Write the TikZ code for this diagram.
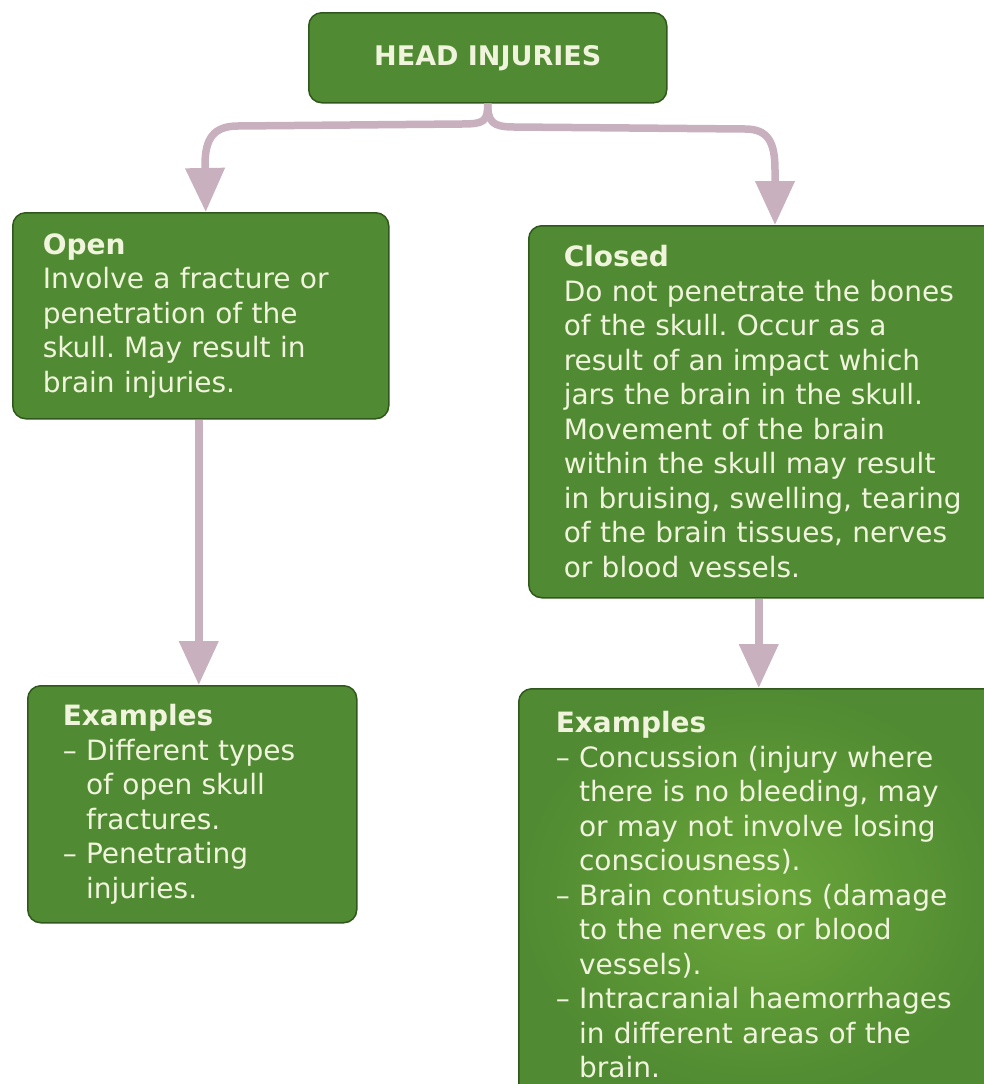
\documentclass[tikz,border=0pt]{standalone}
\usepackage{fontspec}
\setmainfont{DejaVu Sans}
\usetikzlibrary{arrows.meta,calc}
\definecolor{boxgreen}{RGB}{80,138,50}
\definecolor{boxedge}{RGB}{48,88,28}
\definecolor{boxtext}{RGB}{240,244,220}
\definecolor{arrowcol}{RGB}{200,176,190}
\frenchspacing
\begin{document}
\begin{tikzpicture}[x=1pt,y=-1pt,
  gbox/.style={draw=boxedge, line width=1.5pt, fill=boxgreen, rounded corners=13pt,
    text=boxtext, align=left, anchor=north west, font=\fontsize{28}{34.5}\selectfont\frenchspacing},
  arr/.style={draw=arrowcol, line width=7.5pt, -{Triangle[width=38pt,length=44pt]}}]
\useasboundingbox (0,0) rectangle (984,1084);
\clip (0,0) rectangle (984,1084);
\fill[white] (0,0) rectangle (984,1084);
% boxes
\node[gbox, anchor=north west, minimum width=358pt, minimum height=90pt, align=center,
      font=\fontsize{27}{32}\selectfont\bfseries] (head) at (308,12) {HEAD INJURIES};
\node[gbox, text width=316pt, inner xsep=30pt, minimum height=206pt] (open) at (12,212)
  {\textbf{Open}\\Involve a fracture or\\penetration of the\\skull. May result in\\brain injuries.};
\node[gbox, text width=402pt, inner xsep=35pt, minimum height=372pt] (closed) at (528,225)
  {\textbf{Closed}\\Do not penetrate the bones\\of the skull. Occur as a\\result of an impact which\\jars the brain in the skull.\\Movement of the brain\\within the skull may result\\in bruising, swelling, tearing\\of the brain tissues, nerves\\or blood vessels.};
\node[gbox, text width=259pt, inner xsep=35pt, minimum height=237pt] (exopen) at (27,685)
  {\textbf{Examples}\\– Different types\\\phantom{– }of open skull\\\phantom{– }fractures.\\– Penetrating\\\phantom{– }injuries.};
\node[gbox, text width=408pt, inner xsep=37pt, minimum height=412pt,
      inner color={rgb,255:red,106;green,166;blue,58}, outer color=boxgreen] (exclosed) at (518,688)
  {\textbf{Examples}\\– Concussion (injury where\\\phantom{– }there is no bleeding, may\\\phantom{– }or may not involve losing\\\phantom{– }consciousness).\\– Brain contusions (damage\\\phantom{– }to the nerves or blood\\\phantom{– }vessels).\\– Intracranial haemorrhages\\\phantom{– }in different areas of the\\\phantom{– }brain.};
% connectors
\coordinate (lt) at ([xshift=5pt]open.north);
\coordinate (rt) at ([xshift=247pt]closed.north west);
\draw[arr] (head.south) .. controls +(0,18) and +(22,0) .. (462,124) -- (238,126)
  .. controls (214,126) and (205,138) .. (205,165) -- (lt);
\draw[arr] (head.south) .. controls +(0,18) and +(-22,0) .. (514,127) -- (745,129)
  .. controls (768,129) and (775,142) .. (775,170) -- (rt);
\coordinate (ls) at ([xshift=-2pt]open.south);
\draw[arr] (ls) -- (ls |- exopen.north);
\coordinate (rs) at ([xshift=-6pt]closed.south);
\draw[arr] (rs) -- (rs |- exclosed.north);
\end{tikzpicture}
\end{document}
